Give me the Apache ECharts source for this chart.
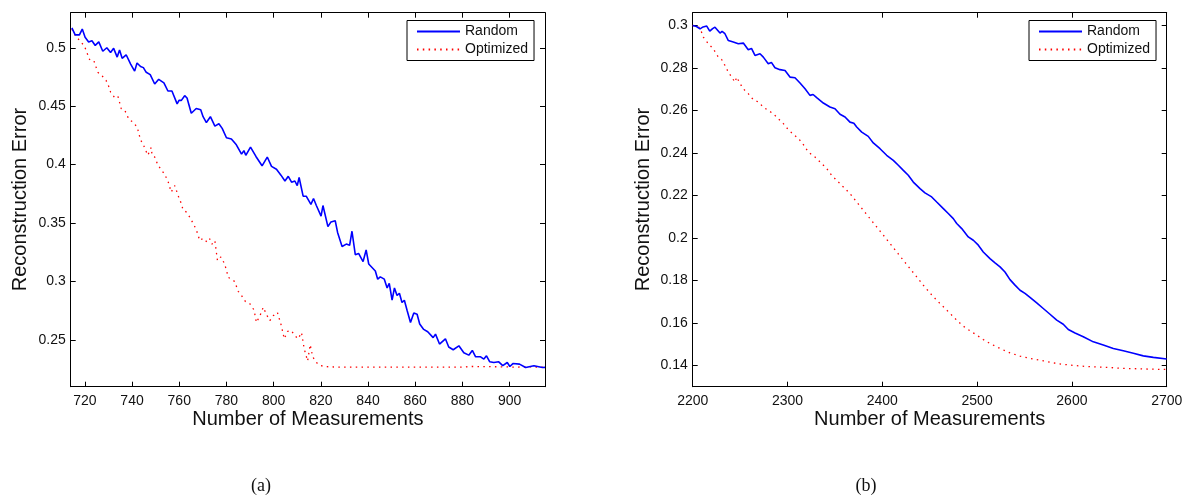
<!DOCTYPE html>
<html>
<head>
<meta charset="utf-8">
<script src="https://cdn.jsdelivr.net/npm/echarts@6/dist/echarts.min.js"></script>
<style>
html,body{margin:0;padding:0;background:#fff;}
#chart{width:1187px;height:495px;}
</style>
</head>
<body>
<div id="chart"></div>
<script>
// ---------- data ----------
const seriesNames = ['Random', 'Optimized'];
const xTitle = 'Number of Measurements';
const yTitle = 'Reconstruction Error';
const captions = ['(a)', '(b)'];

// panel (a)
const xRangeA = [714, 915];
const yRangeA = [0.21, 0.53];
const xTicksA = [720, 740, 760, 780, 800, 820, 840, 860, 880, 900];
const yTicksA = [0.25, 0.3, 0.35, 0.4, 0.45, 0.5];
const randomA = [[714.5,0.517],[715.9,0.511],[717.7,0.511],[718.9,0.516],[720.1,0.509],[721.6,0.505],[723,0.506],[724.4,0.502],[725.9,0.505],[727.6,0.497],[729.3,0.500],[730.9,0.496],[732.2,0.4995],[733.7,0.492],[734.7,0.498],[735.8,0.491],[737.5,0.494],[739.4,0.486],[741.1,0.480],[742.1,0.487],[743.6,0.484],[744.8,0.483],[746,0.479],[747.7,0.477],[749.6,0.469],[751.3,0.473],[753.5,0.470],[755.2,0.463],[756.9,0.463],[759.1,0.452],[759.9,0.455],[760.9,0.455],[762.3,0.459],[763.3,0.457],[765.1,0.444],[767.2,0.448],[769.1,0.447],[770.1,0.441],[771.5,0.436],[773.2,0.441],[775.1,0.433],[776.8,0.435],[778.2,0.431],[780,0.423],[782.1,0.422],[784.2,0.417],[786.4,0.409],[787.4,0.412],[788.2,0.408],[790.2,0.415],[792.5,0.407],[795.1,0.399],[797.3,0.4065],[799.1,0.3985],[801.2,0.396],[803.1,0.391],[804.8,0.386],[806.2,0.390],[807.6,0.385],[809,0.386],[810,0.382],[810.8,0.389],[812.5,0.373],[813.8,0.373],[815.8,0.366],[816.9,0.371],[818.1,0.365],[820.1,0.356],[820.9,0.365],[823,0.347],[824.3,0.351],[826.1,0.352],[827.1,0.342],[829,0.330],[830.8,0.332],[832.2,0.331],[833.2,0.343],[834.6,0.323],[836,0.324],[837.9,0.317],[839.2,0.327],[840.3,0.315],[843.1,0.309],[844.1,0.302],[845.2,0.304],[846.9,0.302],[848.1,0.2945],[849,0.2985],[850.2,0.284],[851.2,0.2945],[852.3,0.288],[853.3,0.290],[854.4,0.282],[855.4,0.284],[856.6,0.275],[858,0.265],[859.4,0.273],[860.8,0.272],[861.9,0.2636],[863.6,0.259],[865.3,0.257],[867.6,0.252],[868.6,0.255],[870.3,0.2465],[872.8,0.251],[874.2,0.244],[876.1,0.2416],[878.5,0.245],[880.6,0.239],[882.7,0.237],[884.2,0.241],[885.6,0.2356],[887.7,0.2356],[889.1,0.2336],[890.2,0.2364],[891.6,0.2313],[893.3,0.2307],[895.4,0.2313],[897.1,0.228],[899,0.2307],[900.1,0.2273],[901.4,0.2298],[904.2,0.2293],[906.8,0.2264],[910.3,0.228],[913.9,0.2264],[915,0.2265]];
const optimizedA = [[714.5,0.516],[716,0.510],[718.4,0.505],[719.9,0.501],[722,0.490],[723.8,0.489],[725.5,0.479],[727.3,0.476],[729,0.472],[730.1,0.467],[730.9,0.462],[732.6,0.4575],[734,0.4586],[735.4,0.448],[736.9,0.4466],[738.7,0.4386],[740.4,0.4365],[742.2,0.432],[742.9,0.4266],[743.6,0.421],[744.6,0.418],[745.6,0.413],[746.7,0.408],[748.1,0.4146],[748.5,0.408],[749.6,0.4065],[751,0.3994],[752.4,0.3957],[753.8,0.3917],[755.2,0.386],[756.6,0.3765],[758.1,0.382],[759.8,0.372],[760.9,0.3666],[761.6,0.3614],[763,0.3594],[764.5,0.355],[765.8,0.350],[767.2,0.3445],[768.7,0.335],[770.1,0.337],[771.9,0.3336],[772.9,0.3365],[773.9,0.332],[775.1,0.335],[775.8,0.324],[776.2,0.318],[777.6,0.321],[779,0.316],[780,0.310],[780.7,0.3036],[782.1,0.302],[783.5,0.300],[785,0.2916],[786.4,0.288],[788,0.283],[789.9,0.281],[791.7,0.2756],[792.7,0.265],[794.2,0.2707],[795.6,0.278],[797,0.2716],[798.4,0.2665],[799.8,0.2707],[801.6,0.2736],[803.3,0.262],[804.5,0.251],[805.9,0.2573],[807.5,0.258],[809,0.2536],[810.4,0.251],[811.8,0.2564],[813,0.242],[814.4,0.232],[815.5,0.246],[816.5,0.236],[817.6,0.232],[819,0.229],[820,0.228],[822,0.2272],[826,0.2268],[832,0.2268],[840,0.2267],[850,0.2268],[860,0.2268],[870,0.2267],[880,0.2268],[884,0.2273],[890,0.2272],[896,0.2270],[902,0.2268],[908,0.2269],[915,0.2268]];

// panel (b)
const xRangeB = [2200, 2700];
const yRangeB = [0.13, 0.306];
const xTicksB = [2200, 2300, 2400, 2500, 2600, 2700];
const yTicksB = [0.14, 0.16, 0.18, 0.2, 0.22, 0.24, 0.26, 0.28, 0.3];
const randomB = [[2200,0.300],[2204,0.2995],[2207.7,0.2984],[2211,0.2993],[2214.8,0.2997],[2218,0.2973],[2221,0.2985],[2223.5,0.2992],[2228.8,0.2964],[2231,0.2972],[2234,0.2961],[2237.6,0.2929],[2242.8,0.2922],[2248.1,0.2914],[2253.4,0.2917],[2258.6,0.2886],[2262,0.2892],[2265.7,0.2859],[2271,0.2867],[2274.5,0.2851],[2279.7,0.282],[2283,0.2826],[2286.8,0.2801],[2292.1,0.2792],[2297.4,0.2788],[2302.6,0.2757],[2307.9,0.2754],[2313.2,0.2729],[2318.5,0.2702],[2323.7,0.2671],[2327,0.2675],[2330.8,0.266],[2337.8,0.2635],[2344.8,0.2616],[2350.1,0.2608],[2355.4,0.2582],[2360.7,0.2569],[2365.9,0.2545],[2370,0.2540],[2373,0.2522],[2378.3,0.2498],[2385.2,0.2478],[2390.5,0.2447],[2397.6,0.242],[2404.6,0.2389],[2411.6,0.2365],[2416.9,0.2342],[2422.2,0.2318],[2427.4,0.2295],[2432.7,0.2263],[2439.8,0.2232],[2445,0.2212],[2452.1,0.2193],[2457.4,0.2169],[2464.4,0.2138],[2469.6,0.2115],[2474.9,0.2091],[2478.5,0.2068],[2483.8,0.2044],[2490.7,0.2005],[2496,0.1989],[2501.3,0.1966],[2506.5,0.1934],[2513.6,0.1903],[2518.9,0.1883],[2524.2,0.1864],[2529.4,0.184],[2534.7,0.1804],[2540,0.1778],[2545.3,0.1754],[2550.5,0.1739],[2555.8,0.172],[2562.9,0.1694],[2569.8,0.1668],[2576.9,0.1641],[2584,0.1613],[2590.9,0.1594],[2596.2,0.1569],[2603.3,0.1553],[2612,0.1535],[2622.6,0.1511],[2633.1,0.1496],[2643.7,0.148],[2654.2,0.1469],[2664.8,0.1457],[2675.3,0.1445],[2685.9,0.1438],[2700,0.1430]];
const optimizedB = [[2200,0.300],[2207.7,0.2989],[2211.2,0.2945],[2216.5,0.2914],[2221.7,0.289],[2227,0.2851],[2230.5,0.284],[2234,0.2812],[2237.6,0.278],[2241.1,0.2757],[2244.6,0.2733],[2246.4,0.2757],[2249.9,0.2727],[2253.4,0.2702],[2258.6,0.2679],[2263.9,0.2651],[2269.2,0.264],[2274.5,0.2616],[2279.7,0.26],[2285,0.2585],[2290.3,0.2561],[2295.6,0.2538],[2300.8,0.251],[2306.1,0.2488],[2309.7,0.2475],[2315,0.2451],[2322,0.2404],[2329,0.2381],[2336.1,0.235],[2341.4,0.2326],[2346.6,0.2295],[2351.9,0.2271],[2358.9,0.224],[2365.9,0.2209],[2373,0.2169],[2380,0.213],[2387,0.2091],[2394.1,0.2052],[2401.1,0.2013],[2408.1,0.1974],[2415.2,0.1934],[2422.2,0.1895],[2429.2,0.1856],[2436.3,0.1817],[2443.2,0.1778],[2450.3,0.1741],[2457.4,0.1707],[2464.4,0.1676],[2471.4,0.1645],[2478.5,0.1613],[2485.4,0.1585],[2492.5,0.1563],[2499.6,0.1543],[2506.5,0.1522],[2513.6,0.1503],[2524.2,0.148],[2534.7,0.1459],[2545.3,0.1444],[2555.8,0.1433],[2569.8,0.1422],[2584,0.1409],[2601.5,0.14],[2619.1,0.1394],[2636.7,0.1391],[2654.2,0.1386],[2671.8,0.1384],[2700,0.1381]];

// ---------- chart ----------
const FONT = 'Liberation Sans, Arial, Helvetica, sans-serif';
const TXT = '#111';
const plain = v => String(v);

function mkX(grid, pos, range, ticks, label) {
  return {
    type: 'value', gridIndex: grid, position: pos, min: range[0], max: range[1],
    axisLine: { show: true, onZero: false, lineStyle: { color: '#000', width: 1 } },
    axisTick: { show: true, inside: true, length: 5, customValues: ticks, lineStyle: { color: '#000', width: 1 } },
    axisLabel: { show: label, customValues: ticks, formatter: plain, margin: 7, fontSize: 14, fontFamily: FONT, color: TXT },
    splitLine: { show: false }
  };
}
function mkY(grid, pos, range, ticks, label) {
  return {
    type: 'value', gridIndex: grid, position: pos, min: range[0], max: range[1],
    axisLine: { show: true, onZero: false, lineStyle: { color: '#000', width: 1 } },
    axisTick: { show: true, inside: true, length: 5, customValues: ticks, lineStyle: { color: '#000', width: 1 } },
    axisLabel: { show: label, customValues: ticks, formatter: plain, margin: 5, fontSize: 14, fontFamily: FONT, color: TXT },
    splitLine: { show: false }
  };
}
function mkLegend(left) {
  return {
    left: left, top: 20.5, orient: 'vertical',
    data: seriesNames,
    padding: [4, 6, 4, 9], itemWidth: 43, itemHeight: 14, itemGap: 4,
    borderColor: '#000', borderWidth: 1, borderRadius: 0, backgroundColor: '#fff',
    itemStyle: { opacity: 0, borderWidth: 0 },
    textStyle: { fontSize: 14, fontFamily: FONT, color: TXT },
    selectedMode: false
  };
}
const blueStyle = { color: '#0000ff', width: 1.6 };
const redStyle = { color: '#ff0000', width: 1.3, type: [1.5, 4.3] };
function mkSeries(name, data, xi, yi, style) {
  return {
    type: 'line', name: name, data: data, xAxisIndex: xi, yAxisIndex: yi,
    symbol: 'none', showSymbol: false, smooth: false, silent: true,
    lineStyle: style, itemStyle: { color: style.color }, z: name === 'Random' ? 3 : 2
  };
}
function txt(x, y, s, size, family, rot) {
  return {
    type: 'text', x: x, y: y, rotation: rot || 0, silent: true,
    style: { text: s, fontSize: size, fontFamily: family, fill: TXT, align: 'center', verticalAlign: 'middle' }
  };
}

const chart = echarts.init(document.getElementById('chart'), null, { renderer: 'canvas' });
chart.setOption({
  animation: false,
  backgroundColor: '#fff',
  grid: [
    { left: 70.7, top: 12.7, width: 474.3, height: 374 },
    { left: 692.7, top: 12.7, width: 474, height: 374 }
  ],
  xAxis: [
    mkX(0, 'bottom', xRangeA, xTicksA, true),
    mkX(0, 'top', xRangeA, xTicksA, false),
    mkX(1, 'bottom', xRangeB, xTicksB, true),
    mkX(1, 'top', xRangeB, xTicksB, false)
  ],
  yAxis: [
    mkY(0, 'left', yRangeA, yTicksA, true),
    mkY(0, 'right', yRangeA, yTicksA, false),
    mkY(1, 'left', yRangeB, yTicksB, true),
    mkY(1, 'right', yRangeB, yTicksB, false)
  ],
  legend: [mkLegend(407), mkLegend(1029)],
  series: [
    mkSeries(seriesNames[0], randomA, 0, 0, blueStyle),
    mkSeries(seriesNames[1], optimizedA, 0, 0, redStyle),
    mkSeries(seriesNames[0], randomB, 2, 2, blueStyle),
    mkSeries(seriesNames[1], optimizedB, 2, 2, redStyle)
  ],
  graphic: [
    txt(20, 199.5, yTitle, 20, FONT, Math.PI / 2),
    txt(643, 199.5, yTitle, 20, FONT, Math.PI / 2),
    txt(307.9, 419.5, xTitle, 20, FONT),
    txt(929.7, 419.5, xTitle, 20, FONT),
    txt(261, 486, captions[0], 18, 'Liberation Serif, Times New Roman, serif'),
    txt(866, 486, captions[1], 18, 'Liberation Serif, Times New Roman, serif')
  ]
});
</script>
</body>
</html>
